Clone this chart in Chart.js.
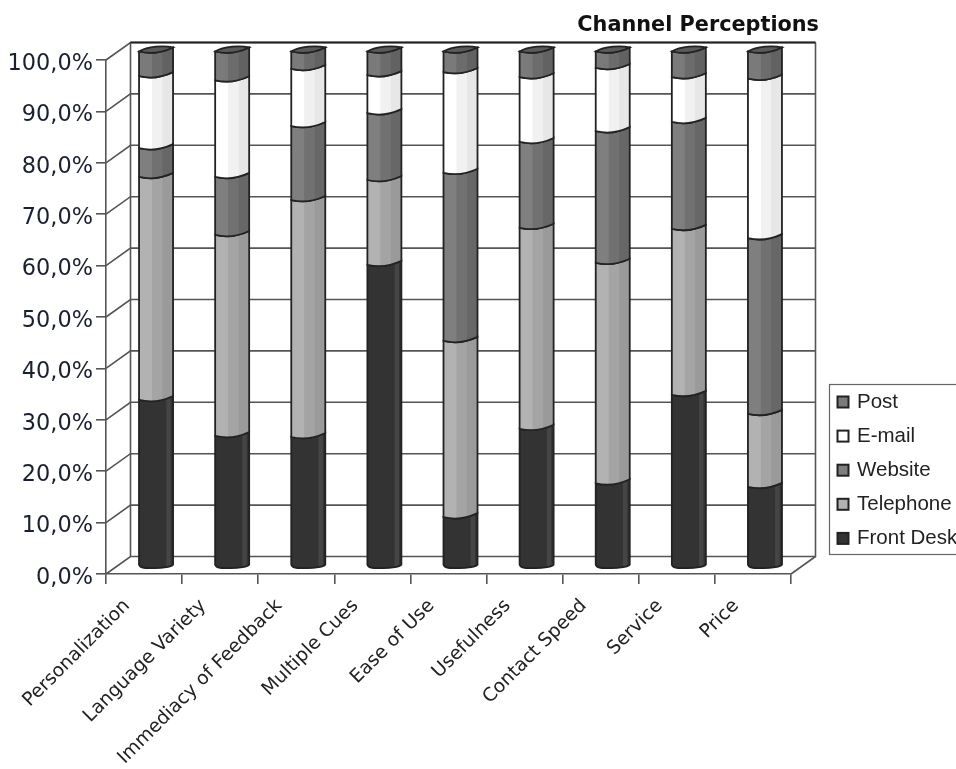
<!DOCTYPE html>
<html>
<head>
<meta charset="utf-8">
<title>Channel Perceptions</title>
<script src="https://cdn.jsdelivr.net/npm/chart.js@4"></script>
<style>
    html, body { margin: 0; padding: 0; background: #fff; overflow: hidden; }
    #wrap { position: absolute; left: 0; top: 0; width: 956px; height: 769px; }
</style>
</head>
<body>
<div id="wrap"><canvas id="chart"></canvas></div>
<script>
// data
const categories = ['Personalization', 'Language Variety', 'Immediacy of Feedback', 'Multiple Cues',
    'Ease of Use', 'Usefulness', 'Contact Speed', 'Service', 'Price'];
const frontDesk = [32.2, 25.2, 25.0, 58.5, 9.4, 26.6, 16.0, 33.2, 15.3];
const telephone = [43.4, 39.1, 46.1, 16.5, 34.3, 39.1, 42.9, 32.3, 14.2];
const website = [5.6, 11.3, 14.4, 13.0, 32.7, 16.7, 25.6, 20.8, 34.2];
const email = [14.0, 18.8, 11.1, 7.4, 19.6, 12.6, 12.3, 8.7, 31.0];
const post = [4.8, 5.6, 3.4, 4.6, 4.0, 5.0, 3.2, 5.0, 5.3];

const seriesNames = ['Front Desk', 'Telephone', 'Website', 'E-mail', 'Post'];
const seriesValues = [frontDesk, telephone, website, email, post];
const seriesColors = ['#333333', '#b2b2b2', '#7f7f7f', '#ffffff', '#7a7a7a'];

// depth of the 3d box, and of the bars inside it
const DEPTH_X = 24.5;
const DEPTH_Y = 17.5;
const BAR_SHIFT_X = 12;
const BAR_SHIFT_Y = 8.5;
const LINE = '#555555';

function shade(hex, amount) {
    const n = parseInt(hex.slice(1), 16);
    const c = [n >> 16, (n >> 8) & 255, n & 255].map(v => Math.max(0, Math.min(255, v + amount)));
    return `rgb(${c[0]},${c[1]},${c[2]})`;
}

// back wall, side wall and floor
const boxPlugin = {
    id: 'box3d',
    beforeDatasetsDraw(chart) {
        const { ctx, scales: { x, y } } = chart;
        const left = x.left, right = x.right;
        ctx.save();
        ctx.strokeStyle = LINE;
        ctx.lineWidth = 1.6;
        for (let v = 0; v <= 100; v += 10) {
            const py = y.getPixelForValue(v);
            ctx.beginPath();
            ctx.moveTo(left, py);
            ctx.lineTo(left + DEPTH_X, py - DEPTH_Y);
            ctx.lineTo(right + DEPTH_X, py - DEPTH_Y);
            ctx.stroke();
        }
        const top = y.getPixelForValue(100) - DEPTH_Y;
        const bottom = y.getPixelForValue(0) - DEPTH_Y;
        ctx.beginPath();
        ctx.moveTo(left + DEPTH_X, bottom);
        ctx.lineTo(left + DEPTH_X, top);
        ctx.moveTo(right + DEPTH_X, top);
        ctx.lineTo(right + DEPTH_X, bottom);
        ctx.lineTo(right, y.getPixelForValue(0));
        ctx.stroke();
        ctx.strokeStyle = '#222222';
        ctx.lineWidth = 2.2;
        ctx.beginPath();
        ctx.moveTo(left + DEPTH_X, top);
        ctx.lineTo(right + DEPTH_X, top);
        ctx.stroke();
        ctx.restore();

        // library bars sit at mid depth
        ctx.save();
        ctx.translate(BAR_SHIFT_X, -BAR_SHIFT_Y);
    },
    afterDatasetsDraw(chart) {
        const { ctx } = chart;
        ctx.restore();
        const last = chart.data.datasets.length - 1;
        chart.data.datasets.forEach((ds, i) => {
            chart.getDatasetMeta(i).data.forEach(bar => {
                drawSegment(ctx, bar, ds.backgroundColor, i === 0, i === last);
            });
        });
    }
};

// round column look on top of a flat library bar
function drawSegment(ctx, bar, color, isFirst, isLast) {
    const x0 = bar.x - bar.width / 2 + BAR_SHIFT_X;
    const x1 = bar.x + bar.width / 2 + BAR_SHIFT_X;
    const w = x1 - x0;
    const top = bar.y - BAR_SHIFT_Y;
    const base = bar.base - BAR_SHIFT_Y;

    const outline = () => {
        ctx.beginPath();
        ctx.moveTo(x0, top);
        ctx.bezierCurveTo(x0 + w * 0.3, top + 2.5, x0 + w * 0.6, top + 2.5, x1, top - 4);
        if (isFirst) {
            // rounded foot on the floor
            ctx.lineTo(x1, base);
            ctx.bezierCurveTo(x1 - 1, base + 2, x0 + w * 0.7, base + 3.5, x0 + w * 0.45, base + 3.5);
            ctx.bezierCurveTo(x0 + w * 0.2, base + 3.5, x0 + 1, base + 3.5, x0, base);
        } else {
            ctx.lineTo(x1, base - 4);
            ctx.bezierCurveTo(x0 + w * 0.6, base + 2.5, x0 + w * 0.3, base + 2.5, x0, base);
        }
        ctx.closePath();
    };

    ctx.save();
    outline();
    ctx.save();
    ctx.clip();
    ctx.fillStyle = color;
    ctx.fillRect(x0, top - 6, w, base - top + 12);
    if (color === '#333333') {
        ctx.fillStyle = '#454545';
        ctx.fillRect(x0 + w * 0.8, top - 6, w * 0.13, base - top + 12);
    } else {
        ctx.fillStyle = shade(color, -14);
        ctx.fillRect(x0 + w * 0.38, top - 6, w * 0.3, base - top + 12);
        ctx.fillStyle = shade(color, -24);
        ctx.fillRect(x0 + w * 0.68, top - 6, w * 0.32, base - top + 12);
    }
    ctx.restore();
    ctx.strokeStyle = '#222222';
    ctx.lineWidth = 1.8;
    outline();
    ctx.stroke();

    if (isLast) {
        ctx.beginPath();
        ctx.moveTo(x0, top);
        ctx.bezierCurveTo(x0 + w * 0.25, top - 5.5, x0 + w * 0.75, top - 6, x1, top - 4);
        ctx.bezierCurveTo(x0 + w * 0.6, top + 2.5, x0 + w * 0.3, top + 2.5, x0, top);
        ctx.closePath();
        ctx.fillStyle = '#5a5a5a';
        ctx.fill();
        ctx.stroke();
    }
    ctx.restore();
}

// title and clipped legend box
const textPlugin = {
    id: 'texts',
    afterDraw(chart) {
        const { ctx } = chart;
        ctx.save();
        ctx.fillStyle = '#111111';
        ctx.font = 'bold 20.8px "DejaVu Sans"';
        ctx.textAlign = 'right';
        ctx.textBaseline = 'middle';
        ctx.fillText('Channel Perceptions', 819, 26);

        ctx.strokeStyle = '#666666';
        ctx.lineWidth = 1.2;
        ctx.fillStyle = '#ffffff';
        ctx.fillRect(829.5, 384.5, 140, 170);
        ctx.strokeRect(829.5, 384.5, 140, 170);

        ctx.textAlign = 'left';
        ctx.font = '20.5px "Liberation Sans"';
        const n = chart.data.datasets.length;
        chart.data.datasets.forEach((ds, i) => {
            const py = 402 + (n - 1 - i) * 34.1;
            ctx.fillStyle = ds.backgroundColor;
            ctx.fillRect(837.5, py - 5.5, 11, 11);
            ctx.strokeStyle = '#222222';
            ctx.lineWidth = 2;
            ctx.strokeRect(837.5, py - 5.5, 11, 11);
            ctx.fillStyle = '#222222';
            ctx.fillText(ds.label, 857, py);
        });
        ctx.restore();
    }
};

new Chart(document.getElementById('chart'), {
    type: 'bar',
    data: {
        labels: categories,
        datasets: seriesNames.map((name, i) => ({
            label: name,
            data: seriesValues[i],
            backgroundColor: seriesColors[i],
            barThickness: 34
        }))
    },
    options: {
        responsive: true,
        maintainAspectRatio: false,
        animation: false,
        layout: {
            autoPadding: false,
            padding: { top: 60, right: 165, left: 0, bottom: 0 }
        },
        plugins: {
            legend: { display: false },
            title: { display: false },
            tooltip: { enabled: false }
        },
        scales: {
            x: {
                stacked: true,
                afterFit: s => { s.height = 195; },
                grid: { drawOnChartArea: false, color: LINE, tickLength: 10, lineWidth: 1.6 },
                border: { color: LINE, width: 1.6 },
                ticks: {
                    color: '#222222',
                    font: { family: 'DejaVu Sans', size: 18.8 },
                    maxRotation: 45,
                    minRotation: 45,
                    labelOffset: -17,
                    padding: 11,
                    autoSkip: false
                }
            },
            y: {
                stacked: true,
                min: 0,
                max: 100,
                afterFit: s => { s.width = 106; },
                grid: { drawOnChartArea: false, color: LINE, tickLength: 10, lineWidth: 1.6 },
                border: { color: LINE, width: 1.6 },
                ticks: {
                    stepSize: 10,
                    color: '#1a2030',
                    font: { family: 'DejaVu Sans', size: 22.4 },
                    padding: 3,
                    labelOffset: 4,
                    callback: v => v.toFixed(1).replace('.', ',') + '%'
                }
            }
        }
    },
    plugins: [boxPlugin, textPlugin]
});
</script>
</body>
</html>
